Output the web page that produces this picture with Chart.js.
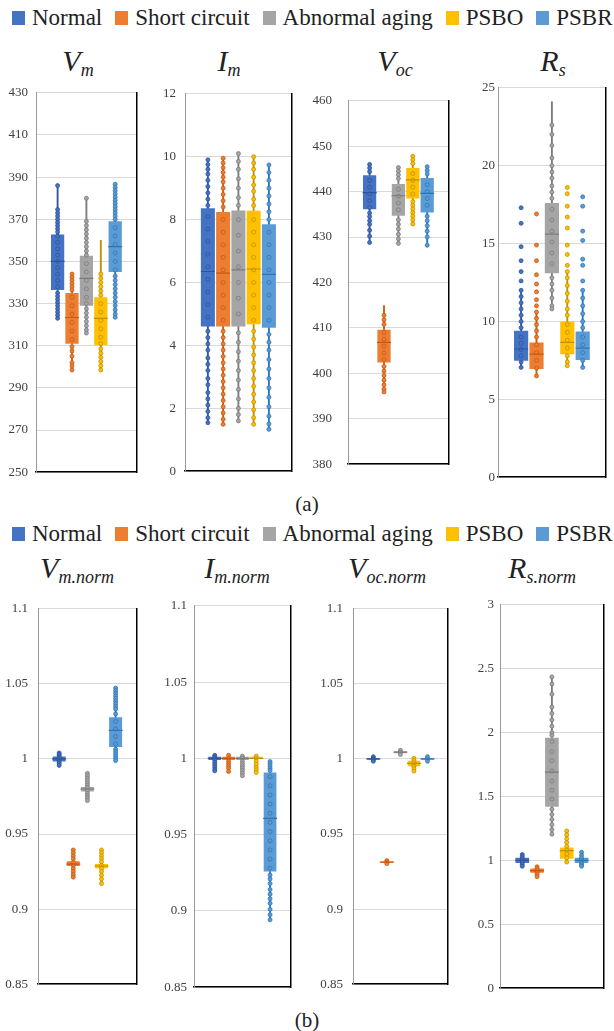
<!DOCTYPE html>
<html>
<head>
<meta charset="utf-8">
<script src="https://cdn.jsdelivr.net/npm/chart.js@4.4.1/dist/chart.umd.min.js"></script>
<style>
  body { margin: 0; background: #fff; }
  #page { position: relative; width: 614px; height: 1031px; overflow: hidden; font-family: 'Liberation Serif', 'Times New Roman', serif; color: #222; }
  canvas { position: absolute; }
  .legend { position: absolute; left: 12px; height: 26px; display: flex; align-items: center; font-size: 23px; white-space: nowrap; }
  .legend .item { display: flex; align-items: center; margin-right: 13px; }
  .legend .sw { display: inline-block; width: 13px; height: 14px; margin-right: 7px; }
  .title { position: absolute; width: 160px; text-align: center; font-style: italic; font-size: 30px; line-height: 30px; white-space: nowrap; }
  .title small { font-size: 18px; position: relative; top: 5px; }
  .caption { position: absolute; left: 0; width: 614px; text-align: center; font-size: 21px; line-height: 24px; }
</style>
</head>
<body>
<div id="page"></div>
<script>
// groups shown in every panel
const groups = ["Normal", "Short circuit", "Abnormal aging", "PSBO", "PSBR"];
const groupColors = ["#4472C4", "#ED7D31", "#A5A5A5", "#FFC000", "#5B9BD5"];
const dotColors = ["#2F5597", "#C55A11", "#7B7B7B", "#BF9000", "#2E75B6"];

// box stats per group: [min, q1, median, q3, max]
const vmStats = [[322.6, 336.5, 350, 362.8, 386], [298.5, 311, 323.4, 335, 344], [316, 329, 342, 352.7, 380], [297.7, 310.3, 323, 333, 360], [323.4, 345, 357, 369, 386.6]];
const vmDots = [
  [386, 374.6, 373, 371.5, 370, 368.5, 367, 365.5, 364, 362, 359, 356, 353, 350, 347, 344, 341, 338, 335, 333.5, 332, 330.5, 329, 327.5, 326, 324.5, 323],
  [344, 342.5, 341, 339.5, 338, 336.5, 333, 329, 325, 321, 317, 313, 309.5, 307.5, 305, 302, 300.4, 298.5],
  [380, 369, 367, 365, 363, 361, 359, 357, 355, 353, 349, 345, 341, 337, 333, 330, 327.5, 325.5, 323.5, 321.5, 319.5, 317.5, 316],
  [344, 342, 340, 338, 336, 334, 330, 326, 322, 318, 314, 311, 308.5, 306.5, 304.5, 302.5, 300.5, 298.5],
  [386.6, 385, 383.5, 382, 380.5, 379, 377.5, 376, 374.5, 373, 371.5, 370, 366, 362, 358, 354, 350, 346, 343, 341, 339, 337, 335, 333, 331, 329, 327, 325, 323.5]
];

const imStats = [[1.54, 4.6, 6.35, 8.36, 9.9], [1.49, 4.6, 6.3, 8.24, 9.95], [1.6, 4.6, 6.4, 8.29, 10.1], [1.49, 4.67, 6.43, 8.28, 10.0], [1.33, 4.56, 6.26, 7.85, 9.74]];
const imDots = [
  [9.9, 9.75, 9.6, 9.45, 9.25, 9.05, 8.85, 8.65, 8.45, 8.1, 7.7, 7.3, 6.9, 6.5, 6.1, 5.7, 5.3, 4.9, 4.45, 4.25, 4.05, 3.85, 3.6, 3.4, 3.2, 2.95, 2.75, 2.5, 2.3, 2.1, 1.9, 1.7, 1.54],
  [9.95, 9.8, 9.65, 9.5, 9.35, 9.2, 9.0, 8.8, 8.6, 8.4, 8.0, 7.6, 7.2, 6.8, 6.4, 6.0, 5.6, 5.2, 4.8, 4.45, 4.25, 4.05, 3.85, 3.65, 3.45, 3.25, 3.05, 2.85, 2.65, 2.45, 2.25, 2.05, 1.85, 1.65, 1.49],
  [10.1, 9.85, 9.6, 9.3, 9.0, 8.7, 8.45, 8.0, 7.5, 7.0, 6.5, 6.0, 5.5, 5.0, 4.4, 4.1, 3.8, 3.5, 3.2, 2.9, 2.6, 2.3, 2.0, 1.8, 1.6],
  [10.0, 9.8, 9.6, 9.35, 9.1, 8.9, 8.65, 8.45, 8.0, 7.6, 7.2, 6.8, 6.4, 6.0, 5.6, 5.2, 4.8, 4.45, 4.2, 3.95, 3.7, 3.45, 3.2, 2.95, 2.7, 2.45, 2.2, 1.95, 1.7, 1.49],
  [9.74, 9.5, 9.25, 9.0, 8.75, 8.5, 8.25, 8.0, 7.6, 7.2, 6.8, 6.4, 6.0, 5.6, 5.2, 4.8, 4.35, 4.1, 3.85, 3.55, 3.25, 2.95, 2.65, 2.35, 2.05, 1.75, 1.5, 1.33]
];

const vocStats = [[428.8, 436.1, 439.8, 443.6, 446], [395.9, 402.4, 406.8, 409.6, 414.9], [428.6, 434.7, 439.1, 441.7, 445.3], [432.9, 438.5, 442.6, 445.2, 447.8], [428.2, 435.4, 439.6, 443, 445.5]];
const vocDots = [
  [446, 445.2, 444.4, 442.5, 441, 439.5, 438, 436.5, 435.3, 434.5, 433.6, 432.8, 431.5, 430.2, 428.8],
  [412.8, 411.8, 410.8, 409, 407.5, 406, 404.5, 403, 401.5, 400.5, 399.5, 398.5, 397.5, 396.5, 395.9],
  [445.3, 444.5, 443.7, 442.9, 440.5, 439, 437.5, 436, 433.8, 432.8, 431.8, 430.6, 429.6, 428.6],
  [447.8, 447, 446.2, 444, 442.5, 441, 439.5, 437.8, 437, 436.2, 435.4, 434.6, 433.8, 432.9],
  [445.5, 444.7, 443.9, 441.5, 440, 438.5, 437, 434.6, 433.6, 432.5, 431.3, 430, 428.2]
];

const rsStats = [[7.05, 7.48, 8.23, 9.4, 12.0], [6.5, 6.94, 7.9, 8.65, 10.6], [10.8, 13.1, 15.6, 17.6, 24.1], [7.16, 7.9, 8.65, 10.0, 13.2], [7.05, 7.52, 8.29, 9.36, 12.0]];
const rsDots = [
  [17.3, 16.3, 14.8, 13.9, 13.2, 12.6, 12.0, 11.6, 11.2, 10.8, 10.4, 10.0, 9.6, 9.0, 8.6, 8.2, 7.8, 7.4, 7.05],
  [16.9, 14.9, 13.9, 13.0, 12.4, 11.9, 11.4, 11.0, 10.6, 10.2, 9.8, 9.4, 9.0, 8.5, 8.0, 7.5, 7.0, 6.5],
  [22.6, 22.0, 21.3, 20.5, 20.0, 19.6, 19.2, 18.7, 18.3, 17.9, 17.2, 16.5, 15.8, 15.1, 14.4, 13.7, 12.8, 12.4, 12.0, 11.5, 11.0, 10.8],
  [18.6, 18.2, 17.4, 16.7, 16.0, 14.9, 14.3, 13.6, 13.2, 12.8, 12.3, 11.8, 11.3, 10.8, 10.4, 9.8, 9.3, 8.8, 8.3, 7.8, 7.4, 7.16],
  [18.0, 17.4, 15.8, 15.2, 14.0, 13.6, 12.6, 12.0, 11.5, 11.0, 10.5, 10.0, 9.6, 9.0, 8.5, 8.0, 7.5, 7.05]
];

const vmNormStats = [[0.9957, 0.9983, 1.0, 1.0017, 1.004], [0.9213, 0.9287, 0.930, 0.9319, 0.9394], [0.9723, 0.9783, 0.980, 0.9813, 0.9904], [0.917, 0.9272, 0.9287, 0.930, 0.9394], [0.9989, 1.0079, 1.0191, 1.0277, 1.0472]];
const vmNormDots = [
  [1.004, 1.003, 1.002, 1.001, 1.0, 0.999, 0.998, 0.997, 0.9957],
  [0.9394, 0.9375, 0.9355, 0.9335, 0.931, 0.929, 0.927, 0.925, 0.923, 0.9213],
  [0.9904, 0.9888, 0.9872, 0.9856, 0.984, 0.9824, 0.981, 0.979, 0.977, 0.9755, 0.974, 0.9723],
  [0.9394, 0.9375, 0.9355, 0.9335, 0.9315, 0.929, 0.927, 0.925, 0.9225, 0.92, 0.917],
  [1.0472, 1.0455, 1.0438, 1.042, 1.0403, 1.0385, 1.0368, 1.035, 1.0333, 1.03, 1.025, 1.02, 1.015, 1.01, 1.0065, 1.005, 1.0035, 1.002, 1.0005, 0.9989]
];

const imNormStats = [[0.9918, 0.999, 1.0, 1.001, 1.002], [0.9914, 0.999, 1.0, 1.001, 1.002], [0.9886, 0.999, 1.0, 1.001, 1.0015], [0.9908, 0.9995, 1.0, 1.001, 1.0015], [0.8942, 0.9258, 0.9607, 0.9908, 0.9979]];
const imNormDots = [
  [1.002, 1.001, 1.0, 0.999, 0.9975, 0.996, 0.9945, 0.993, 0.9918],
  [1.002, 1.0, 0.998, 0.9965, 0.995, 0.9935, 0.9914],
  [1.0015, 1.0, 0.998, 0.9965, 0.995, 0.9935, 0.992, 0.9903, 0.9886],
  [1.0015, 1.0, 0.998, 0.996, 0.994, 0.9925, 0.9908],
  [0.9979, 0.9965, 0.995, 0.9935, 0.992, 0.988, 0.982, 0.976, 0.97, 0.964, 0.958, 0.952, 0.946, 0.94, 0.934, 0.928, 0.9235, 0.921, 0.918, 0.914, 0.911, 0.908, 0.905, 0.901, 0.8975, 0.8942]
];

const vocNormStats = [[0.9985, 0.9995, 1.0, 1.0005, 1.0015], [0.9303, 0.9309, 0.9313, 0.9317, 0.9323], [1.003, 1.0038, 1.0045, 1.0052, 1.0058], [0.9919, 0.9951, 0.997, 0.9988, 1.0004], [0.9985, 0.9995, 1.0, 1.0005, 1.0015]];
const vocNormDots = [
  [1.0015, 1.0005, 1.0, 0.9995, 0.9985],
  [0.9323, 0.9313, 0.9303],
  [1.0058, 1.0045, 1.003],
  [1.0004, 0.999, 0.9975, 0.996, 0.995, 0.9935, 0.9919],
  [1.0015, 1.0, 0.9985]
];

const rsNormStats = [[0.954, 0.98, 1.0, 1.02, 1.046], [0.872, 0.903, 0.92, 0.936, 0.95], [1.205, 1.42, 1.69, 1.96, 2.436], [0.987, 1.013, 1.077, 1.10, 1.23], [0.954, 0.98, 1.0, 1.02, 1.064]];
const rsNormDots = [
  [1.046, 1.03, 1.015, 1.0, 0.985, 0.97, 0.954],
  [0.95, 0.935, 0.92, 0.905, 0.89, 0.872],
  [2.436, 2.38, 2.3, 2.2, 2.15, 2.1, 2.05, 2.0, 1.98, 1.93, 1.85, 1.78, 1.7, 1.62, 1.55, 1.48, 1.4, 1.36, 1.32, 1.28, 1.24, 1.205],
  [1.23, 1.2, 1.17, 1.14, 1.11, 1.08, 1.05, 1.02, 0.987],
  [1.064, 1.04, 1.02, 1.0, 0.98, 0.965, 0.954]
];

// y axis [min, max, step]
const vmTicks = [250, 430, 20];
const imTicks = [0, 12, 2];
const vocTicks = [380, 460, 10];
const rsTicks = [0, 25, 5];
const normTicks = [0.85, 1.1, 0.05];
const rsNormTicks = [0, 3, 0.5];

const panels = [
  { sym: "V", sub: "m", stats: vmStats, dots: vmDots, ticks: vmTicks },
  { sym: "I", sub: "m", stats: imStats, dots: imDots, ticks: imTicks },
  { sym: "V", sub: "oc", stats: vocStats, dots: vocDots, ticks: vocTicks },
  { sym: "R", sub: "s", stats: rsStats, dots: rsDots, ticks: rsTicks },
  { sym: "V", sub: "m.norm", stats: vmNormStats, dots: vmNormDots, ticks: normTicks },
  { sym: "I", sub: "m.norm", stats: imNormStats, dots: imNormDots, ticks: normTicks },
  { sym: "V", sub: "oc.norm", stats: vocNormStats, dots: vocNormDots, ticks: normTicks },
  { sym: "R", sub: "s.norm", stats: rsNormStats, dots: rsNormDots, ticks: rsNormTicks }
];

// canvas left, canvas top, canvas width, axis width, tick padding, title centre, title top
const layout = [
  [0, 77, 145, 36, 8, 78, 46],
  [150, 77, 150, 35, 9, 229, 46],
  [300, 77, 157, 48, 16, 395, 46],
  [458, 77, 156, 40, 3, 553, 46],
  [0, 591, 145, 38, 10, 77, 553],
  [150, 591, 149, 44, 7, 237, 553],
  [305, 591, 151, 48, 10, 387, 553],
  [457, 591, 155, 43, 6, 542, 553]
];

// empty slot on each side keeps the boxes in the middle of the plot
const xLabels = [""].concat(groups, [""]);

const page = document.getElementById("page");

function addLegend(top) {
  const div = document.createElement("div");
  div.className = "legend";
  div.style.top = top + "px";
  groups.forEach((g, i) => {
    const item = document.createElement("span");
    item.className = "item";
    item.innerHTML = '<span class="sw" style="background:' + groupColors[i] + '"></span>' + g;
    div.appendChild(item);
  });
  page.appendChild(div);
}

function addCaption(text, top) {
  const div = document.createElement("div");
  div.className = "caption";
  div.style.top = top + "px";
  div.textContent = text;
  page.appendChild(div);
}

function fmt(v) {
  return String(+v.toFixed(4));
}

function createPanel(p, lay) {
  const [left, top, width, axisW, pad, titleX, titleTop] = lay;
  const height = 411;

  const title = document.createElement("div");
  title.className = "title";
  title.style.left = (titleX - 80) + "px";
  title.style.top = titleTop + "px";
  title.innerHTML = p.sym + "<small>" + p.sub + "</small>";
  page.appendChild(title);

  const canvas = document.createElement("canvas");
  canvas.width = width;
  canvas.height = height;
  canvas.style.left = left + "px";
  canvas.style.top = top + "px";
  page.appendChild(canvas);

  const datasets = [];
  // whiskers
  datasets.push({
    type: "bar",
    data: p.stats.map((s, i) => ({ x: groups[i], y: [s[0], s[4]] })),
    backgroundColor: dotColors,
    barThickness: 1.2,
    grouped: false,
    order: 4
  });
  // boxes
  datasets.push({
    type: "bar",
    data: p.stats.map((s, i) => ({ x: groups[i], y: [s[1], s[3]] })),
    backgroundColor: groupColors,
    barPercentage: 0.92,
    categoryPercentage: 1,
    grouped: false,
    order: 3
  });
  // individual points
  p.dots.forEach((vals, i) => {
    datasets.push({
      type: "scatter",
      data: vals.map(v => ({ x: groups[i], y: v })),
      pointRadius: 2,
      pointBackgroundColor: groupColors[i],
      pointBorderColor: dotColors[i],
      pointBorderWidth: 0.8,
      order: 2
    });
  });
  // medians
  datasets.push({
    type: "scatter",
    data: p.stats.map((s, i) => ({ x: groups[i], y: s[2] })),
    pointStyle: "line",
    pointRadius: 7,
    pointBorderColor: dotColors,
    pointBorderWidth: 1.2,
    order: 1
  });

  return new Chart(canvas.getContext("2d"), {
    type: "bar",
    data: { labels: xLabels, datasets: datasets },
    options: {
      responsive: false,
      animation: false,
      devicePixelRatio: 1,
      layout: { padding: { top: 10, bottom: 10, left: 0, right: 2 } },
      plugins: { legend: { display: false }, tooltip: { enabled: false } },
      scales: {
        x: {
          type: "category",
          labels: xLabels,
          offset: true,
          ticks: { display: false },
          grid: { display: false, drawTicks: false },
          border: { display: true, color: "#000", width: 1.5 },
          afterFit: s => { s.height = 0; }
        },
        y: {
          type: "linear",
          position: "left",
          min: p.ticks[0],
          max: p.ticks[1],
          ticks: {
            stepSize: p.ticks[2],
            padding: pad,
            color: "#404040",
            font: { family: "Liberation Serif", size: 13 },
            callback: v => fmt(v)
          },
          grid: { color: "#d9d9d9", drawTicks: false },
          border: { color: "#999", width: 1 },
          afterFit: s => { s.width = axisW; }
        },
        yr: {
          type: "linear",
          position: "right",
          ticks: { display: false },
          grid: { display: false, drawTicks: false },
          border: { display: true, color: "#000", width: 1.5 },
          afterFit: s => { s.width = 0; }
        }
      }
    }
  });
}

addLegend(5);
addCaption("(a)", 492);
addLegend(521);
addCaption("(b)", 1008);
panels.forEach((p, i) => createPanel(p, layout[i]));
</script>
</body>
</html>
